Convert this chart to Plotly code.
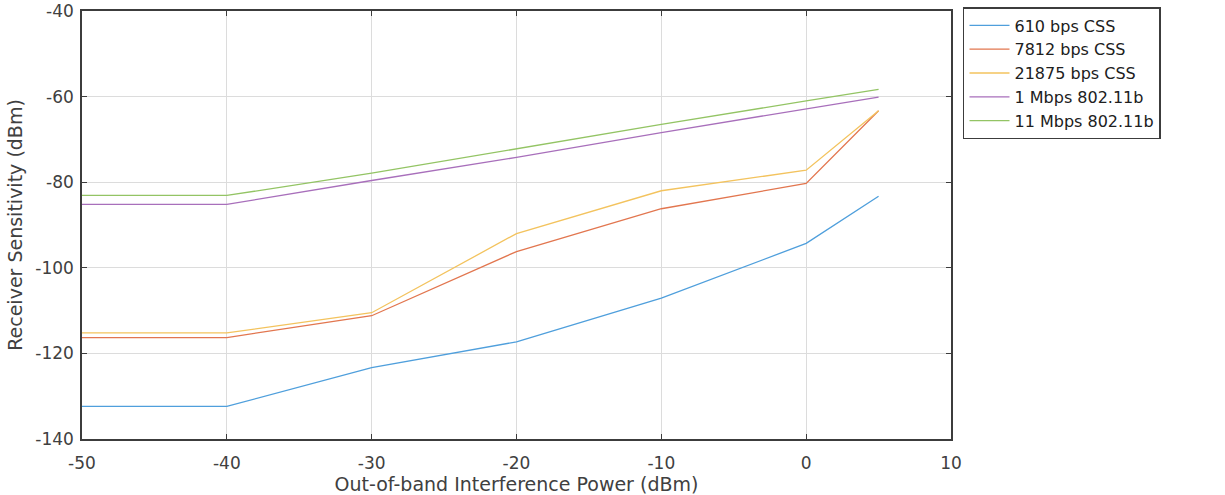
import plotly.graph_objects as go

x_vals = [-50, -40, -30, -20, -10, 0, 5]
series_names = ["610 bps CSS", "7812 bps CSS", "21875 bps CSS", "1 Mbps 802.11b", "11 Mbps 802.11b"]
css_610 = [-132.4, -132.4, -123.3, -117.3, -107.1, -94.3, -83.3]
css_7812 = [-116.3, -116.3, -111.2, -96.2, -86.2, -80.3, -63.3]
css_21875 = [-115.2, -115.2, -110.5, -92.0, -82.0, -77.2, -63.3]
wifi_1m = [-85.2, -85.2, -79.6, -74.2, -68.4, -62.8, -60.1]
wifi_11m = [-83.1, -83.1, -77.9, -72.2, -66.5, -61.0, -58.3]
colors = ["#4f9fdc", "#e2764f", "#f3c35e", "#a86fbb", "#93c464"]

x_ticks = [-50, -40, -30, -20, -10, 0, 10]
x_tick_labels = ["-50", "-40", "-30", "-20", "-10", "0", "10"]
y_ticks = [-140, -120, -100, -80, -60, -40]
y_tick_labels = ["-140", "-120", "-100", "-80", "-60", "-40"]

fig = go.Figure()
for name, ys, c in zip(series_names, [css_610, css_7812, css_21875, wifi_1m, wifi_11m], colors):
    fig.add_trace(go.Scatter(x=x_vals, y=ys, mode="lines", name=name,
                             line=dict(color=c, width=1.3)))

font = "DejaVu Sans, Verdana, sans-serif"
axis_common = dict(showgrid=True, gridcolor="#dcdcdc", gridwidth=1, zeroline=False,
                   showline=True, linecolor="#3c3c3c", linewidth=1.5, mirror="ticks",
                   ticks="inside", ticklen=5, tickcolor="#3c3c3c", automargin=False,
                   tickfont=dict(family=font, size=17, color="#404040"))

fig.update_layout(
    width=1225, height=495,
    margin=dict(l=82, r=274, t=7, b=56),
    paper_bgcolor="white", plot_bgcolor="white",
    font=dict(family=font, size=16, color="#404040"),
    xaxis=dict(range=[-50, 10], tickvals=x_ticks, ticktext=x_tick_labels,
               ticklabelstandoff=8,
               title=dict(text="Out-of-band Interference Power (dBm)", standoff=2,
                          font=dict(family=font, size=19, color="#404040")),
               **axis_common),
    yaxis=dict(range=[-140, -40], tickvals=y_ticks, ticktext=y_tick_labels,
               ticklabelstandoff=3,
               title=dict(text="Receiver Sensitivity (dBm)", standoff=8,
                          font=dict(family=font, size=19, color="#404040")),
               **axis_common),
    legend=dict(x=1.0138, y=1.0093, xanchor="left", yanchor="top",
                bordercolor="#3c3c3c", borderwidth=1.5, bgcolor="white",
                font=dict(family=font, size=16, color="#202020"),
                tracegroupgap=0, itemwidth=40),
    showlegend=True,
)

fig.write_html("out.html", config={"displayModeBar": False},
               post_script="document.body.style.margin='0px';")
